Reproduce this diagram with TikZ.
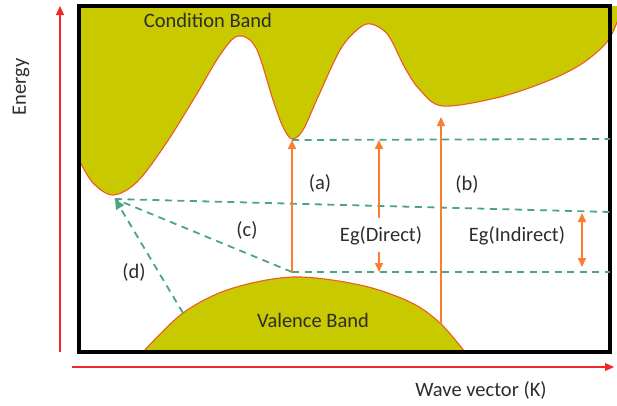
\documentclass[tikz,border=0pt]{standalone}
\usepackage{fontspec}
\setmainfont{Carlito}
\usetikzlibrary{arrows.meta}
\definecolor{bandfill}{RGB}{201,201,0}
\definecolor{bandedge}{RGB}{235,90,40}
\definecolor{arroworange}{RGB}{250,125,50}
\definecolor{dashgreen}{RGB}{75,165,125}
\definecolor{axisred}{RGB}{240,40,40}
\definecolor{txt}{RGB}{45,45,45}
\tikzset{
  lbl/.style={text=txt, font=\fontsize{20.5}{24}\selectfont, inner sep=0pt},
  gdash/.style={draw=dashgreen, line width=1.8pt, dash pattern=on 7pt off 5.5pt},
  oarrow/.style={draw=arroworange, line width=1.6pt, -{Triangle[length=9pt,width=8pt]}},
  axisline/.style={draw=axisred, line width=1.1pt, -{Triangle[length=9pt,width=8pt]}},
  bandline/.style={draw=bandedge, line width=1.1pt},
}
\begin{document}
\begin{tikzpicture}[x=1pt,y=-1pt]
\useasboundingbox (0,0) rectangle (617,405);
\def\cbcurve{(79,160) (93,183) (113,195) (137,182) (165,145) (195,97) (220,55) (238,36) (256,48) (273,100) (283,127) (292,139) (303,130) (318,97) (340,50) (358,29) (371,24) (388,35) (405,68) (420,90) (443,106) (500,97) (550,80) (583,63) (607,42) (617,22)}
\def\vbcurve{(143,352) (183,313) (230,289) (293,277) (360,285) (410,302) (440,323) (465,352)}
% conduction band
\fill[bandfill] (79,6) -- plot[smooth,tension=0.55] coordinates {\cbcurve} -- (617,6) -- cycle;
\draw[bandline] plot[smooth,tension=0.55] coordinates {\cbcurve};
% valence band
\fill[bandfill] plot[smooth,tension=0.55] coordinates {\vbcurve} -- cycle;
\draw[bandline] plot[smooth,tension=0.55] coordinates {\vbcurve};
% frame
\draw[line width=3.8pt, black] (79,6) rectangle (610,352);
% axes
\coordinate (eyb) at (60,352);
\coordinate (eyt) at (60,6);
\draw[axisline] (eyb) -- (eyt);
\coordinate (wxl) at (72,367);
\coordinate (wxr) at (614,367);
\draw[axisline] (wxl) -- (wxr);
\node[lbl, rotate=90] (energy) at (21,87) {Energy};
\node[lbl] (wave) at (481,390) {Wave vector (K)};
% key points
\coordinate (cbmin) at (115,199);
\coordinate (cbdir) at (292,140);
\coordinate (vbtop) at (292,272);
\coordinate (rtop) at (610,139);
\coordinate (rmid) at (610,212);
\coordinate (rlow) at (610,272);
\coordinate (dstart) at (183,313);
% dashed lines
\draw[gdash] (cbdir) -- (rtop);
\draw[gdash] (cbmin) -- (rmid);
\draw[gdash] (vbtop) -- (rlow);
\draw[gdash] (vbtop) -- (cbmin);
\draw[gdash, -{Triangle[length=10pt,width=9pt]}] (dstart) -- (cbmin);
% orange arrows
\draw[oarrow] (vbtop) -- (cbdir);
\coordinate (egdu) at (379,218);
\coordinate (egdut) at (379,140);
\coordinate (egdl) at (379,252);
\coordinate (egdlt) at (379,272);
\draw[oarrow] (egdu) -- (egdut);
\draw[oarrow] (egdl) -- (egdlt);
\coordinate (bbot) at (441,324);
\coordinate (btop) at (441,117);
\draw[oarrow] (bbot) -- (btop);
\coordinate (eia) at (582,213);
\coordinate (eib) at (582,267);
\draw[oarrow, {Triangle[length=9pt,width=8pt]}-{Triangle[length=9pt,width=8pt]}] (eia) -- (eib);
% labels
\node[lbl] (cb) at (208,20) {Condition Band};
\node[lbl] (vb) at (313,320) {Valence Band};
\node[lbl] (la) at (320,183) {(a)};
\node[lbl] (lb) at (467,184) {(b)};
\node[lbl] (lc) at (247,230) {(c)};
\node[lbl] (ld) at (134,272) {(d)};
\node[lbl] (egd) at (381,236) {Eg(Direct)};
\node[lbl] (egi) at (517,236) {Eg(Indirect)};
\end{tikzpicture}
\end{document}
